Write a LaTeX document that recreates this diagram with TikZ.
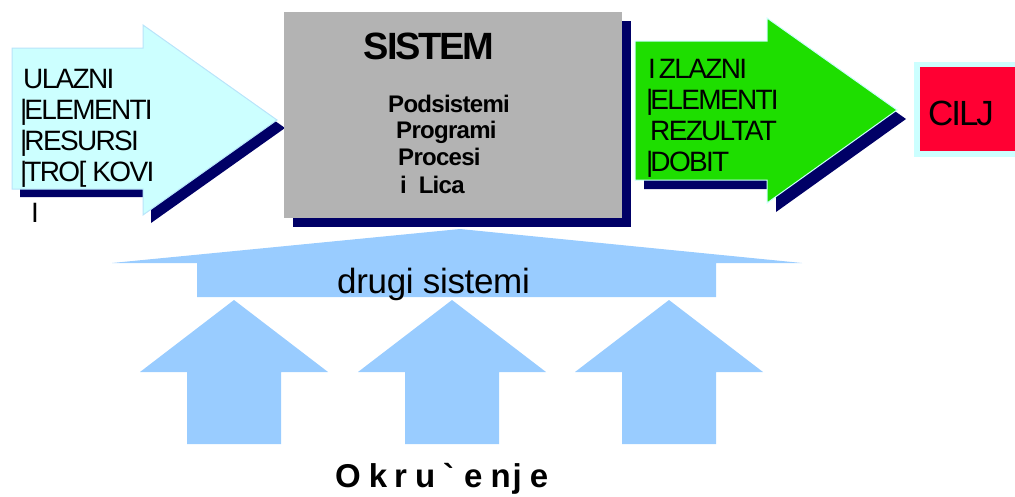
\documentclass[tikz,border=0pt]{standalone}
\usepackage{fontspec}
\setmainfont{Liberation Sans}
\newfontfamily\lsA{Liberation Sans}[LetterSpace=-6]
\newfontfamily\lsB{Liberation Sans}[LetterSpace=-3]
\newfontfamily\lsC{Liberation Sans}[LetterSpace=-1]
\definecolor{navy}{RGB}{0,0,102}
\definecolor{cyanfill}{RGB}{204,255,255}
\definecolor{cyanline}{RGB}{185,228,250}
\definecolor{greenfill}{RGB}{30,222,0}
\definecolor{grayfill}{RGB}{179,179,179}
\definecolor{redfill}{RGB}{255,0,51}
\definecolor{bluefill}{RGB}{153,204,255}
\begin{document}
\begin{tikzpicture}[x=1pt,y=-1pt,
  lbl/.style={anchor=base west,inner sep=0pt,font=\lsA\fontsize{28}{30}\selectfont},
  sub/.style={anchor=base west,inner sep=0pt,font=\lsB\bfseries\fontsize{24}{26}\selectfont}]
\useasboundingbox (0,0) rectangle (1015,496);
% input arrow
\fill[navy,shift={(8,8)}] (12,48) -- (143,48) -- (143,25) -- (277,120) -- (143,215) -- (143,189) -- (12,189) -- cycle;
\filldraw[fill=cyanfill,draw=cyanline,line width=1pt] (12,48) -- (143,48) -- (143,25) -- (277,120) -- (143,215) -- (143,189) -- (12,189) -- cycle;
% system box
\fill[navy] (293,21) rectangle (631,227);
\fill[grayfill] (284,12) rectangle (622,218);
% output arrow
\fill[navy,shift={(9,9)}] (635,41) -- (767,41) -- (767,18) -- (897,110) -- (767,203) -- (767,180) -- (635,180) -- cycle;
\filldraw[fill=greenfill,draw=cyanfill,line width=1pt] (635,41) -- (767,41) -- (767,18) -- (897,110) -- (767,203) -- (767,180) -- (635,180) -- cycle;
% goal box
\fill[cyanfill] (914,62) rectangle (1015,157);
\fill[redfill] (920,67) rectangle (1015,151);
% other systems arrow
\fill[bluefill] (460,229) -- (802,263) -- (716,263) -- (716,297) -- (197,297) -- (197,263) -- (112,263) -- cycle;
% environment arrows
\foreach \c in {234,452,669}
  \fill[bluefill] (\c,300) -- (\c+94,372) -- (\c+47,372) -- (\c+47,444) -- (\c-47,444) -- (\c-47,372) -- (\c-94,372) -- cycle;
% texts left
\node[lbl] (in1) at (23,88) {ULAZNI};
\node[lbl] (in2) at (20,119) {|\kern-3pt ELEMENTI};
\node[lbl] (in3) at (20,150) {|\kern-3pt RESURSI};
\node[lbl] (in4) at (20,181) {|\kern-3pt TRO[ KOVI};
\node[lbl] (in5) at (31,222) {I};
% texts right
\node[lbl] (out1) at (648,78) {I\kern3pt ZLAZNI};
\node[lbl] (out2) at (646,109) {|\kern-3pt ELEMENTI};
\node[lbl] (out3) at (650,140) {REZULTAT};
\node[lbl] (out4) at (646,171) {|\kern-3pt DOBIT};
\node[anchor=base west,inner sep=0pt,font=\lsA\fontsize{35}{38}\selectfont] (goal) at (928,125) {CILJ};
% system texts
\node[anchor=base,inner sep=0pt,font=\lsA\bfseries\fontsize{38}{40}\selectfont] (sys) at (429,59) {SISTEM};
\node[sub] (s1) at (388,112) {Podsistemi};
\node[sub] (s2) at (396,138) {Programi};
\node[sub] (s3) at (398,165) {Procesi};
\node[sub] (s4) at (400,193) {i\ \ Lica};
% other systems / environment
\node[anchor=base west,inner sep=0pt,font=\lsC\fontsize{35}{38}\selectfont] (other) at (337,293) {drugi sistemi};
\node[anchor=base west,inner sep=0pt,font=\bfseries\fontsize{33}{35}\selectfont] (env) at (335,487)
  {O\kern8pt k\kern7pt r\kern8pt u\kern8pt \textasciigrave\kern10pt e\kern8pt n\kern2pt j\kern8pt e};
\end{tikzpicture}
\end{document}
